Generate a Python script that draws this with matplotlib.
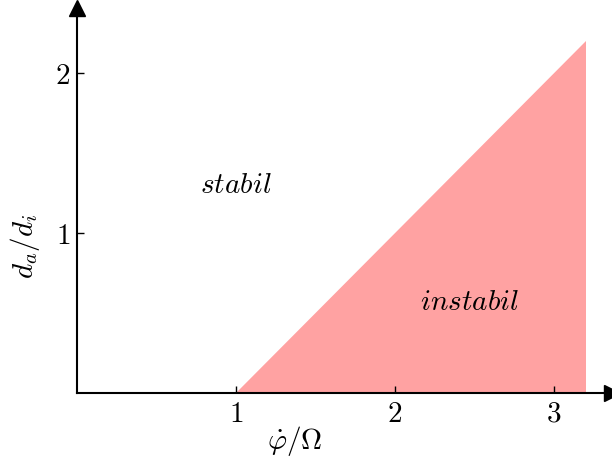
import matplotlib
matplotlib.use('Agg')
from matplotlib import pyplot as plt

plt.rcParams['mathtext.fontset'] = 'cm'
plt.rcParams['font.family'] = 'serif'
plt.rcParams['font.serif'] = ['DejaVu Serif']

# boundary of the unstable region: d_a/d_i = phi_dot/Omega - 1
x_region = [1.0, 3.2, 3.2]
y_region = [0.0, 0.0, 2.2]

x_ticks = [1, 2, 3]
y_ticks = [1, 2]
tick_labels_x = ['$1$', '$2$', '$3$']
tick_labels_y = ['$1$', '$2$']

fig = plt.figure(figsize=(6.12, 4.57), dpi=100)
ax = fig.add_axes([0.126, 0.14, 0.874, 0.842])

ax.fill(x_region, y_region, color='#ffa2a2', lw=0, zorder=1)

ax.set_xlim(0, 3.365)
ax.set_ylim(0, 2.406)

for side in ['top', 'right']:
    ax.spines[side].set_visible(False)
for side in ['left', 'bottom']:
    ax.spines[side].set_linewidth(1.5)
    ax.spines[side].set_zorder(3)

# arrow heads at the axis ends
ax.plot(1, 0, '>k', ms=12, transform=ax.get_yaxis_transform(), clip_on=False)
ax.plot(0, 1, '^k', ms=12, transform=ax.get_xaxis_transform(), clip_on=False)

ax.set_xticks(x_ticks)
ax.set_xticklabels(tick_labels_x)
ax.set_yticks(y_ticks)
ax.set_yticklabels(tick_labels_y)
ax.tick_params(direction='in', length=5, width=1, labelsize=21, pad=5)

ax.text(1.0, 1.3, r'$stabil$', fontsize=21, ha='center', va='center')
ax.text(2.47, 0.57, r'$instabil$', fontsize=21, ha='center', va='center')

ax.text(1.37, -0.3, r'$\dot{\varphi}/\Omega$', fontsize=21, ha='center', va='center')
ax.text(-0.33, 0.92, r'$d_a/d_i$', fontsize=21, ha='center', va='center', rotation=90)

plt.savefig('out.png', dpi=100)
